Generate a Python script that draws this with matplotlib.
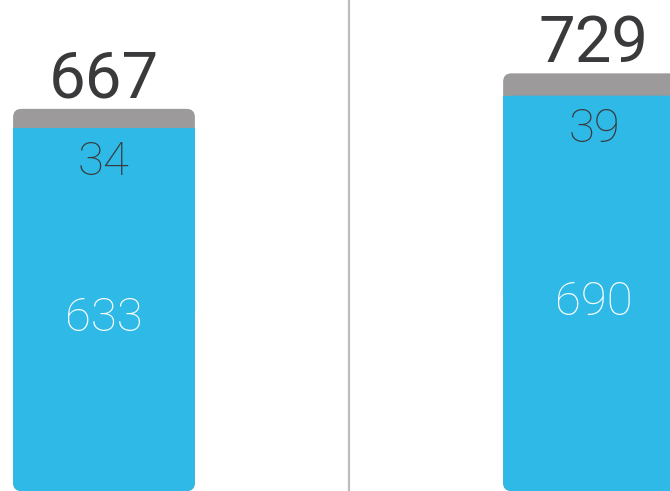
import matplotlib
matplotlib.use("Agg")
import matplotlib.pyplot as plt
from matplotlib.patches import FancyBboxPatch, Rectangle

# data
groups = ["A", "B"]
base_vals = [633, 690]
top_vals = [34, 39]
totals = [667, 729]

blue = "#2EB9E6"
grey = "#9C9A9A"
dark = "#3A3A3C"

plt.rcParams['font.family'] = ['Roboto', 'DejaVu Sans']

fig = plt.figure(figsize=(6.7, 4.91), dpi=100)
ax = fig.add_axes([0, 0, 1, 1])
ax.set_xlim(-0.2122, 1.155)
ax.set_ylim(0, 857)
ax.axis("off")

xs = range(len(groups))
w = 0.371
# invisible bars, used only for their geometry
bars_tot = ax.bar(xs, totals, width=w, color="none")
bars_base = ax.bar(xs, base_vals, width=w, color="none")

asp = 1.746 * 490  # y-units per x-unit in screen space
r = 0.017

for bt, bb in zip(bars_tot, bars_base):
    x0, wd = bt.get_x(), bt.get_width()
    ax.add_patch(FancyBboxPatch((x0, 0), wd, bt.get_height(),
                                boxstyle=f"round,pad=0,rounding_size={r}",
                                mutation_aspect=asp, fc=grey, ec="none", zorder=2))
    ax.add_patch(FancyBboxPatch((x0, 0), wd, bb.get_height(),
                                boxstyle=f"round,pad=0,rounding_size={r}",
                                mutation_aspect=asp, fc=blue, ec="none", zorder=3))
    ax.add_patch(Rectangle((x0, bb.get_height() / 2), wd, bb.get_height() / 2,
                           fc=blue, ec="none", zorder=3))

for i in xs:
    ax.annotate(str(totals[i]), (i, totals[i]), xytext=(0, 8), textcoords="offset points",
                ha="center", va="baseline", fontsize=47, color=dark, zorder=4)
    ax.annotate(str(top_vals[i]), (i, base_vals[i]), xytext=(0, -24), textcoords="offset points",
                ha="center", va="center", fontsize=34, fontweight="light", color=dark, zorder=4)
    ax.annotate(str(base_vals[i]), (i, base_vals[i] / 2), xytext=(0, -6), textcoords="offset points",
                ha="center", va="center", fontsize=34, fontweight="light", color="white", zorder=4)

# divider
ax.axvline(0.5, ymin=0.0, ymax=1.0, color="#BDBDBD", lw=1.6, zorder=1)

fig.savefig("out.png", dpi=100)
